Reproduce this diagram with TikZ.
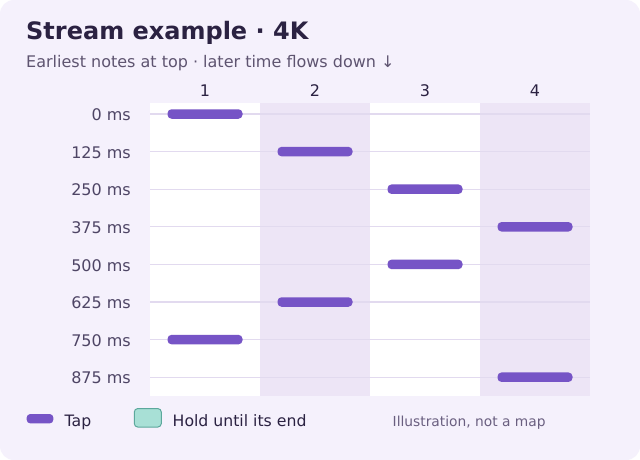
\documentclass[tikz,border=0pt]{standalone}
\usepackage{fontspec}
\setmainfont{DejaVu Sans}
\definecolor{cardbg}{HTML}{F5F1FC}
\definecolor{laneb}{HTML}{EDE5F6}
\definecolor{gridc}{HTML}{E2DAEF}
\definecolor{barc}{HTML}{7654C6}
\definecolor{titlec}{HTML}{2B2242}
\definecolor{subc}{HTML}{5E5470}
\definecolor{labc}{HTML}{4E4565}
\definecolor{holdf}{HTML}{A8E0D6}
\definecolor{holdd}{HTML}{5CA89C}
\definecolor{notec}{HTML}{6A5F80}
\tikzset{
  lane/.style={draw=none,inner sep=0pt,minimum width=110pt,minimum height=293.5pt,anchor=north west},
  tapbar/.style={fill=barc,draw=none,rounded corners=4pt,inner sep=0pt,minimum width=75pt,minimum height=9.5pt},
  rowlab/.style={anchor=base east,inner sep=0pt,text=labc,font=\fontsize{16}{19}\selectfont},
  collab/.style={anchor=base,inner sep=0pt,text=titlec,font=\fontsize{16}{19}\selectfont},
  gridline/.style={draw=gridc,line width=1.3pt},
  legtext/.style={anchor=base west,inner sep=0pt,text=titlec,font=\fontsize{15.7}{19}\selectfont},
}
\begin{document}
\begin{tikzpicture}[x=1pt,y=-1pt]
\useasboundingbox (0,0) rectangle (640,460);
\fill[white] (0,0) rectangle (640,460);
\fill[cardbg,rounded corners=14pt] (0,0) rectangle (640,460);
% title
\node[anchor=base west,inner sep=0pt,text=titlec,font=\fontsize{24}{28}\bfseries\selectfont] (title) at (26,40) {Stream example · 4K};
\node[anchor=base west,inner sep=0pt,text=subc,font=\fontsize{16}{19}\selectfont] (sub) at (26,67) {Earliest notes at top · later time flows down ↓};
% lanes
\node[lane,fill=white] (l1) at (150,102.5) {};
\node[lane,fill=laneb] (l2) at (260,102.5) {};
\node[lane,fill=white] (l3) at (370,102.5) {};
\node[lane,fill=laneb] (l4) at (480,102.5) {};
% column labels
\foreach \i/\x in {1/205,2/315,3/425,4/535}
  \node[collab] (c\i) at (\x,96.7) {\i};
% rows
\foreach \t/\y [count=\k] in {0/114,125/151.6,250/189.2,375/226.8,500/264.4,625/302,750/339.6,875/377.2}{
  \coordinate (ra\k) at (150,\y);
  \coordinate (rb\k) at (590,\y);
  \draw[gridline] (ra\k) -- (rb\k);
  \node[rowlab] (r\k) at (131,\y+6.6) {\t\ ms};
}
% notes
\foreach \k/\x in {1/205,2/315,3/425,4/535,5/425,6/315,7/205,8/535}
  \node[tapbar] (n\k) at (\x,{114+(\k-1)*37.6}) {};
% legend
\node[fill=barc,rounded corners=3.5pt,inner sep=0pt,minimum width=26.6pt,minimum height=9.3pt] (tapsw) at (40,418.7) {};
\node[legtext] (taplab) at (64.5,426) {Tap};
\node[fill=holdf,draw=holdd,line width=1pt,rounded corners=3.5pt,inner sep=0pt,minimum width=27pt,minimum height=18.5pt] (holdsw) at (147.8,417.8) {};
\node[legtext] (holdlab) at (172.5,426) {Hold until its end};
\node[anchor=base west,inner sep=0pt,text=notec,font=\fontsize{13.8}{16}\selectfont] (note) at (392.5,426) {Illustration, not a map};
\end{tikzpicture}
\end{document}
